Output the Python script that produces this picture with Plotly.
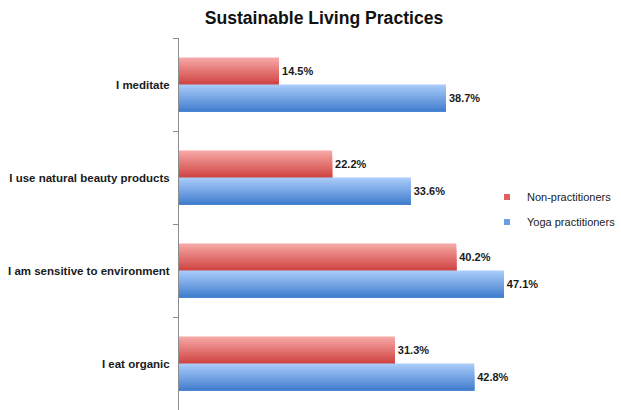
import plotly.graph_objects as go

# Survey results: share of respondents who follow each practice
practices = [
    "I meditate",
    "I use natural beauty products",
    "I am sensitive to environment",
    "I eat organic",
]
non_practitioners = [14.5, 22.2, 40.2, 31.3]
yoga_practitioners = [38.7, 33.6, 47.1, 42.8]

series = [
    # name, values, top colour, bottom colour, legend colour, offset within the group
    ("Non-practitioners", non_practitioners, (246, 166, 164), (208, 70, 68), "#e06060", -0.29),
    ("Yoga practitioners", yoga_practitioners, (168, 202, 248), (68, 128, 208), "#6a9fe6", 0.0),
]

BAR_H = 0.29
SLICES = 14

fig = go.Figure()


def mix(c1, c2, t):
    return "rgb({},{},{})".format(*[round(a + (b - a) * t) for a, b in zip(c1, c2)])


for name, values, top, bottom, legend_col, base in series:
    h = BAR_H / SLICES
    # vertical gradient: each slice runs to the bottom edge of the bar and
    # the next, darker one is painted over it
    for i in range(SLICES):
        t = i / (SLICES - 1)
        fig.add_trace(go.Bar(
            x=values, y=practices, orientation="h",
            base=0, offset=base + i * h, width=BAR_H - i * h,
            marker=dict(color=mix(top, bottom, t), line=dict(width=0)),
            name=name, legendgroup=name, showlegend=False,
            hoverinfo="skip",
        ))
    # value labels at the end of each bar
    fig.add_trace(go.Bar(
        x=values, y=practices, orientation="h",
        offset=base, width=BAR_H,
        marker=dict(color="rgba(0,0,0,0)", line=dict(width=0)),
        text=[f"{v:.1f}%" for v in values],
        textposition="outside", cliponaxis=False,
        textfont=dict(family="Liberation Sans, Arial", size=11, color="#1a1a1a", weight="bold"),
        showlegend=False, name=name,
    ))
    # small square legend key
    fig.add_trace(go.Scatter(
        x=[None], y=[None], mode="markers", name=name, legendgroup=name,
        marker=dict(symbol="square", size=6, color=legend_col),
    ))

fig.update_layout(
    width=621, height=410,
    barmode="overlay",
    paper_bgcolor="white", plot_bgcolor="white",
    margin=dict(l=179, r=96, t=38, b=0),
    font=dict(family="Liberation Sans, Arial", color="#1a1a1a"),
    title=dict(
        text="<b>Sustainable Living Practices</b>",
        x=324 / 621, xref="container", xanchor="center",
        y=1 - 18 / 410, yanchor="middle",
        font=dict(size=17.6, color="#111"),
    ),
    legend=dict(
        x=0.907, y=0.539, xanchor="left", yanchor="middle",
        font=dict(size=11, color="#222"),
        itemwidth=30, tracegroupgap=6,
        bgcolor="rgba(0,0,0,0)",
    ),
    xaxis=dict(range=[0, 49.3], visible=False, fixedrange=True),
    yaxis=dict(
        autorange="reversed",
        showline=True, linecolor="#8c8c8c", linewidth=1,
        ticks="outside", tickson="boundaries", ticklen=5, tickcolor="#8c8c8c",
        showgrid=False,
        tickfont=dict(size=11.5, color="#1a1a1a", weight="bold"),
        ticklabelstandoff=6,
    ),
)

fig.write_html("out.html")
